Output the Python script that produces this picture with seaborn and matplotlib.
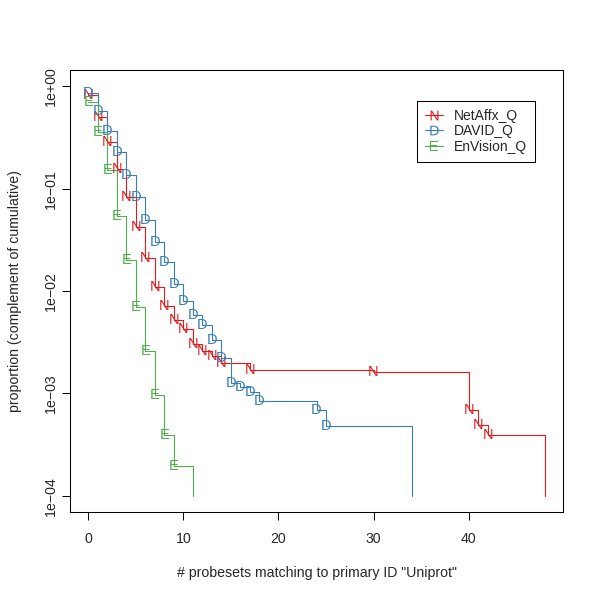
import matplotlib
matplotlib.use("Agg")
import matplotlib.pyplot as plt
from matplotlib.lines import Line2D
import seaborn as sns

# complement of cumulative proportions
net_x = [0, 1, 2, 3, 4, 5, 6, 7, 8, 9, 10, 11, 12, 13, 14, 17, 30, 40, 41, 42]
net_p = [0.83, 0.50, 0.286, 0.155, 0.083, 0.042, 0.021, 0.0109, 0.0071, 0.0052,
         0.0043, 0.0030, 0.0026, 0.0023, 0.0020, 0.0017, 0.0016, 0.00069,
         0.00049, 0.00039]
net_end = 48

david_x = [0, 1, 2, 3, 4, 5, 6, 7, 8, 9, 10, 11, 12, 13, 14, 15, 16, 17, 18, 24, 25]
david_p = [0.86, 0.58, 0.364, 0.229, 0.135, 0.083, 0.049, 0.030, 0.0193, 0.0116,
           0.0079, 0.0058, 0.0047, 0.0033, 0.0022, 0.00126, 0.00115, 0.00104,
           0.00085, 0.00068, 0.00048]
david_end = 34

env_x = [0, 1, 2, 3, 4, 5, 6, 7, 8, 9]
env_p = [0.71, 0.36, 0.151, 0.054, 0.020, 0.0069, 0.0026, 0.00097, 0.00039, 0.000196]
env_end = 11

floor_p = 1e-4
names = ["NetAffx_Q", "DAVID_Q", "EnVision_Q"]
letters = ["N", "D", "E"]
colors = ["#E41A1C", "#377EB8", "#4DAF4A"]

sns.set_style("ticks")
plt.rcParams["font.family"] = ["Liberation Sans", "DejaVu Sans"]

fig = plt.figure(figsize=(6, 6), dpi=100)
ax = fig.add_axes([70 / 600, 88 / 600, 493 / 600, 442 / 600])
ax.set_yscale("log")

series = [(net_x, net_p, net_end), (david_x, david_p, david_end), (env_x, env_p, env_end)]
for (xs, ps, end), letter, col in zip(series, letters, colors):
    sns.lineplot(x=xs + [end], y=ps + [floor_p], ax=ax, color=col, lw=0.8,
                 estimator=None, sort=False, drawstyle="steps-post")
    for xv, pv in zip(xs, ps):
        ax.text(xv, pv, letter, color=col, fontsize=10.5, ha="center", va="center")

ax.set_xlim(-1.92, 49.92)
ax.set_ylim(10 ** -4.16, 10 ** 0.16)
ax.set_xticks([0, 10, 20, 30, 40])
yt = [1, 0.1, 0.01, 0.001, 0.0001]
ax.set_yticks(yt)
ax.set_yticklabels(["1e+00", "1e\u221201", "1e\u221202", "1e\u221203", "1e\u221204"])
ax.minorticks_off()
for lab in ax.get_yticklabels():
    lab.set_rotation(90)
    lab.set_va("center")
ax.tick_params(axis="both", length=5.5, width=0.75, labelsize=10.2, color="black")
ax.tick_params(axis="x", pad=9)
ax.tick_params(axis="y", pad=3)
for s in ax.spines.values():
    s.set_visible(True)
    s.set_color("black")
    s.set_linewidth(0.75)

ax.set_xlabel('# probesets matching to primary ID "Uniprot"', fontsize=10.2, labelpad=14)
ax.set_ylabel("proportion (complement of cumulative)", fontsize=10.2, labelpad=16)

handles = [Line2D([], [], color=c, lw=0.8, marker=r"$\mathregular{%s}$" % l,
                  markersize=7, markeredgewidth=0)
           for l, c in zip(letters, colors)]
leg = ax.legend(handles, names, loc="upper left", bbox_to_anchor=(0.704, 0.93),
                fontsize=10, handlelength=1.3, handletextpad=0.8, labelspacing=0.12,
                borderpad=0.55, borderaxespad=0, fancybox=False, framealpha=1)
leg.get_frame().set_edgecolor("black")
leg.get_frame().set_linewidth(0.75)

fig.savefig("out.png", dpi=100)
